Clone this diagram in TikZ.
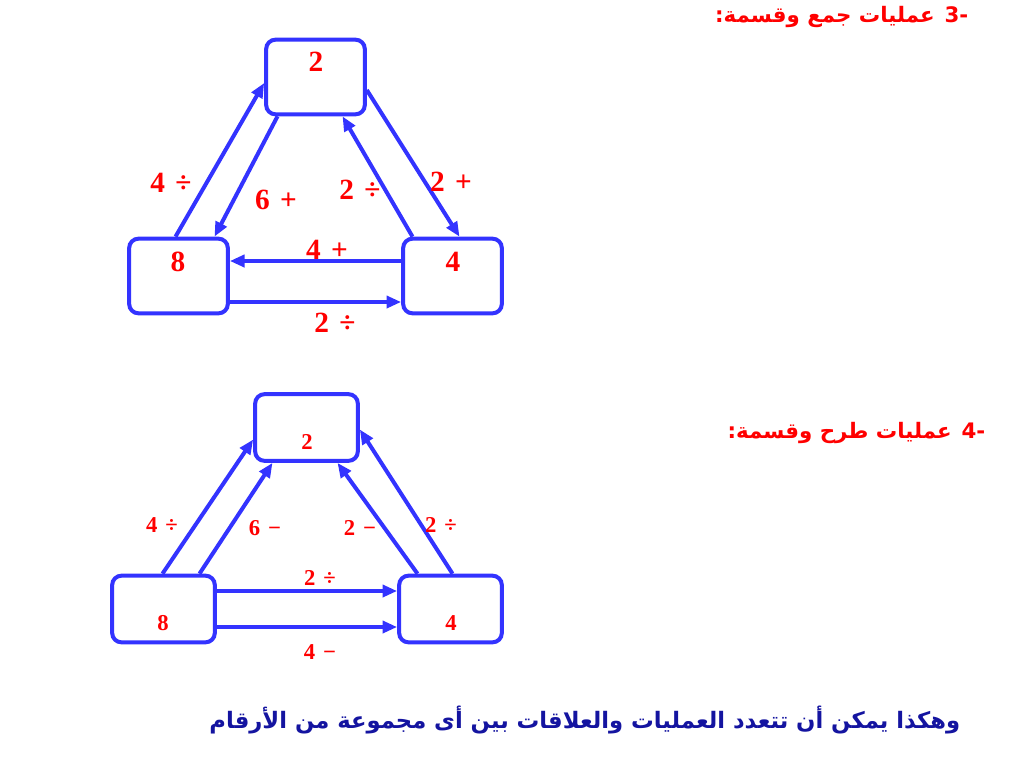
\documentclass[tikz,border=0pt]{standalone}
\usepackage{fontspec}
\setmainfont{Liberation Serif}
\newfontfamily\arabicfont[Script=Arabic]{DejaVu Sans}
\TeXXeTstate=1
\usetikzlibrary{arrows.meta}
\definecolor{boxblue}{RGB}{51,51,255}
\definecolor{numred}{RGB}{255,0,0}
\definecolor{textnavy}{RGB}{20,20,160}
\begin{document}
\begin{tikzpicture}[x=0.75pt, y=-0.75pt,
    bigbox/.style={draw=boxblue, line width=3pt, rounded corners=7pt, minimum width=74pt, minimum height=56pt},
    smallbox/.style={draw=boxblue, line width=3pt, rounded corners=7pt, minimum width=77pt, minimum height=50pt},
    arr/.style={draw=boxblue, line width=3pt, -{Triangle[length=11pt, width=9pt]}},
    bignum/.style={text=numred, font=\bfseries\fontsize{22}{26}\selectfont},
    smallnum/.style={text=numred, font=\bfseries\fontsize{17}{20}\selectfont},
    head/.style={text=numred, font=\arabicfont\bfseries\fontsize{16}{20}\selectfont}]
    \useasboundingbox (0,0) rectangle (1024,768);
    % 3- addition and division
    \node[head, anchor=east] (head3) at (973,17) {\beginR عمليات جمع وقسمة:\endR{} -3};
    \node[bigbox] (top) at (315.5,77) {};
    \node[bigbox] (left) at (178.5,276) {};
    \node[bigbox] (right) at (452.5,276) {};
    \node[bignum] (topnum) at (316,62) {2};
    \node[bignum] (leftnum) at (178,262) {8};
    \node[bignum] (rightnum) at (453,262) {4};
    \draw[arr] ([shift={(-3,0)}]left.north) -- ([shift={(0,6)}]top.west);
    \draw[arr] ([shift={(-38,0)}]top.south) -- ([shift={(36,0)}]left.north);
    \draw[arr] ([shift={(0,13)}]top.east) -- ([shift={(7,0)}]right.north);
    \draw[arr] ([shift={(-40,0)}]right.north) -- ([shift={(27,0)}]top.south);
    \draw[arr] ([shift={(0,-15)}]right.west) -- ([shift={(0,-15)}]left.east);
    \draw[arr] ([shift={(0,26)}]left.east) -- ([shift={(0,26)}]right.west);
    \node[bignum] (divfour) at (171,183) {4\hspace{.35em}÷};
    \node[bignum] (addsix) at (276,200) {6\hspace{.35em}+};
    \node[bignum] (divtwo) at (360,190) {2\hspace{.35em}÷};
    \node[bignum] (addtwo) at (451,182) {2\hspace{.35em}+};
    \node[bignum] (addfour) at (327,250) {4\hspace{.35em}+};
    \node[bignum] (divtwob) at (335,323) {2\hspace{.35em}÷};
    % 4- subtraction and division
    \node[head, anchor=east] (head4) at (990,433) {\beginR عمليات طرح وقسمة:\endR{} -4};
    \node[smallbox] (top2) at (306.5,427.5) {};
    \node[smallbox] (left2) at (163.5,609) {};
    \node[smallbox] (right2) at (450.5,609) {};
    \node[smallnum] (topnum2) at (307,442) {2};
    \node[smallnum] (leftnum2) at (163,623) {8};
    \node[smallnum] (rightnum2) at (451,623) {4};
    \draw[arr] ([shift={(-1,0)}]left2.north) -- ([shift={(0,12)}]top2.west);
    \draw[arr] ([shift={(36,0)}]left2.north) -- ([shift={(-34,0)}]top2.south);
    \draw[arr] ([shift={(-33,0)}]right2.north) -- ([shift={(31,0)}]top2.south);
    \draw[arr] ([shift={(2,0)}]right2.north) -- ([shift={(0,2)}]top2.east);
    \draw[arr] ([shift={(0,-18)}]left2.east) -- ([shift={(0,-18)}]right2.west);
    \draw[arr] ([shift={(0,18)}]left2.east) -- ([shift={(0,18)}]right2.west);
    \node[smallnum] (divfour2) at (162,525) {4\hspace{.35em}÷};
    \node[smallnum] (subsix) at (265,528) {6\hspace{.35em}−};
    \node[smallnum] (subtwo) at (360,528) {2\hspace{.35em}−};
    \node[smallnum] (divtwo2) at (441,525) {2\hspace{.35em}÷};
    \node[smallnum] (divtwo3) at (320,578) {2\hspace{.35em}÷};
    \node[smallnum] (subfour) at (320,652) {4\hspace{.35em}−};
    % closing line
    \node[head, text=textnavy, anchor=east, font=\arabicfont\bfseries\fontsize{17}{21}\selectfont] (closing) at (965,720)
        {\beginR وهكذا يمكن أن تتعدد العمليات والعلاقات بين أى مجموعة من الأرقام\endR};
\end{tikzpicture}
\end{document}
